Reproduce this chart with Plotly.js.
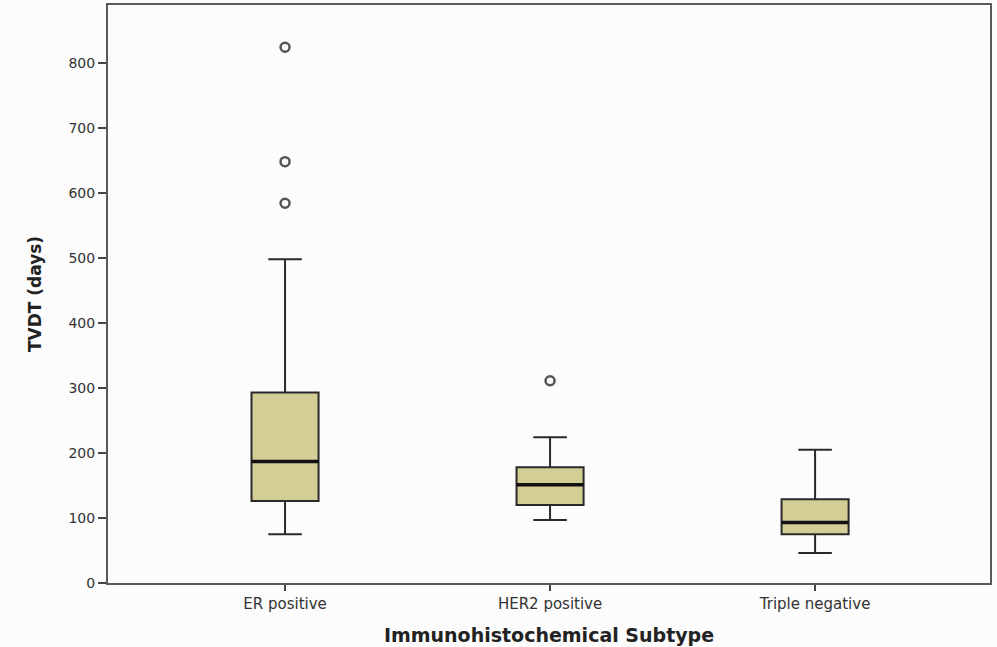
<!DOCTYPE html>
<html>
<head>
<meta charset="utf-8">
<script src="https://cdn.plot.ly/plotly-3.0.1.min.js"></script>
<style>html,body{margin:0;padding:0;background:#fcfcfc;}#chart{width:997px;height:647px;}</style>
</head>
<body>
<div id="chart"></div>
<script>
// Data
const categories = ["ER positive", "HER2 positive", "Triple negative"];
const lowerFence = [75, 97, 46];
const q1Values = [126, 120, 75];
const medianValues = [187, 151, 93];
const q3Values = [293, 178, 129];
const upperFence = [498, 224, 205];
const outlierCategories = ["ER positive", "ER positive", "ER positive", "HER2 positive"];
const outlierValues = [824, 648, 584, 311];
const yTickValues = [0, 100, 200, 300, 400, 500, 600, 700, 800];

const boxFill = "rgb(211,205,150)";
const boxWidth = 0.253;

const traces = [
  {
    type: "box",
    x: categories,
    q1: q1Values,
    median: medianValues,
    q3: q3Values,
    lowerfence: lowerFence,
    upperfence: upperFence,
    width: boxWidth,
    whiskerwidth: 0.5,
    fillcolor: boxFill,
    line: {color: "#2a2a2a", width: 2},
    boxpoints: false,
    hoverinfo: "skip",
    showlegend: false
  },
  {
    // thick median line
    type: "box",
    x: categories,
    q1: medianValues,
    median: medianValues,
    q3: medianValues,
    lowerfence: medianValues,
    upperfence: medianValues,
    width: boxWidth,
    whiskerwidth: 0,
    fillcolor: "rgba(0,0,0,0)",
    line: {color: "#111111", width: 3.5},
    boxpoints: false,
    hoverinfo: "skip",
    showlegend: false
  },
  {
    type: "scatter",
    mode: "markers",
    x: outlierCategories,
    y: outlierValues,
    marker: {symbol: "circle-open", size: 9, color: "#555555", line: {width: 2.5, color: "#555555"}},
    hoverinfo: "skip",
    showlegend: false
  }
];

const layout = {
  width: 997,
  height: 647,
  margin: {l: 108, r: 7, t: 5, b: 64},
  paper_bgcolor: "#fcfcfc",
  plot_bgcolor: "#fcfcfc",
  font: {family: "DejaVu Sans, Arial, sans-serif", color: "#333333"},
  boxmode: "overlay",
  xaxis: {
    type: "category",
    categoryorder: "array",
    categoryarray: categories,
    range: [-0.668, 2.66],
    showgrid: false,
    zeroline: false,
    showline: true,
    mirror: true,
    linecolor: "#5a5a5a",
    linewidth: 2,
    ticks: "outside",
    ticklen: 6,
    tickwidth: 1.5,
    tickcolor: "#444444",
    tickfont: {size: 15, color: "#333333", family: "DejaVu Sans, Arial, sans-serif"},
    title: {text: "Immunohistochemical Subtype", font: {size: 19, color: "#222222", family: "DejaVu Sans, Arial, sans-serif", weight: "bold"}, standoff: 17}
  },
  yaxis: {
    range: [0, 889],
    tickvals: yTickValues,
    ticktext: yTickValues.map(String),
    showgrid: false,
    zeroline: false,
    showline: true,
    mirror: true,
    linecolor: "#5a5a5a",
    linewidth: 2,
    ticks: "outside",
    ticklen: 8,
    tickwidth: 1.5,
    tickcolor: "#444444",
    tickfont: {size: 14, color: "#333333", family: "DejaVu Sans, Arial, sans-serif"},
    title: {text: "TVDT (days)", font: {size: 17, color: "#222222", family: "DejaVu Sans, Arial, sans-serif", weight: "bold"}, standoff: 23}
  }
};

Plotly.newPlot("chart", traces, layout, {displayModeBar: false, staticPlot: true});
</script>
</body>
</html>
